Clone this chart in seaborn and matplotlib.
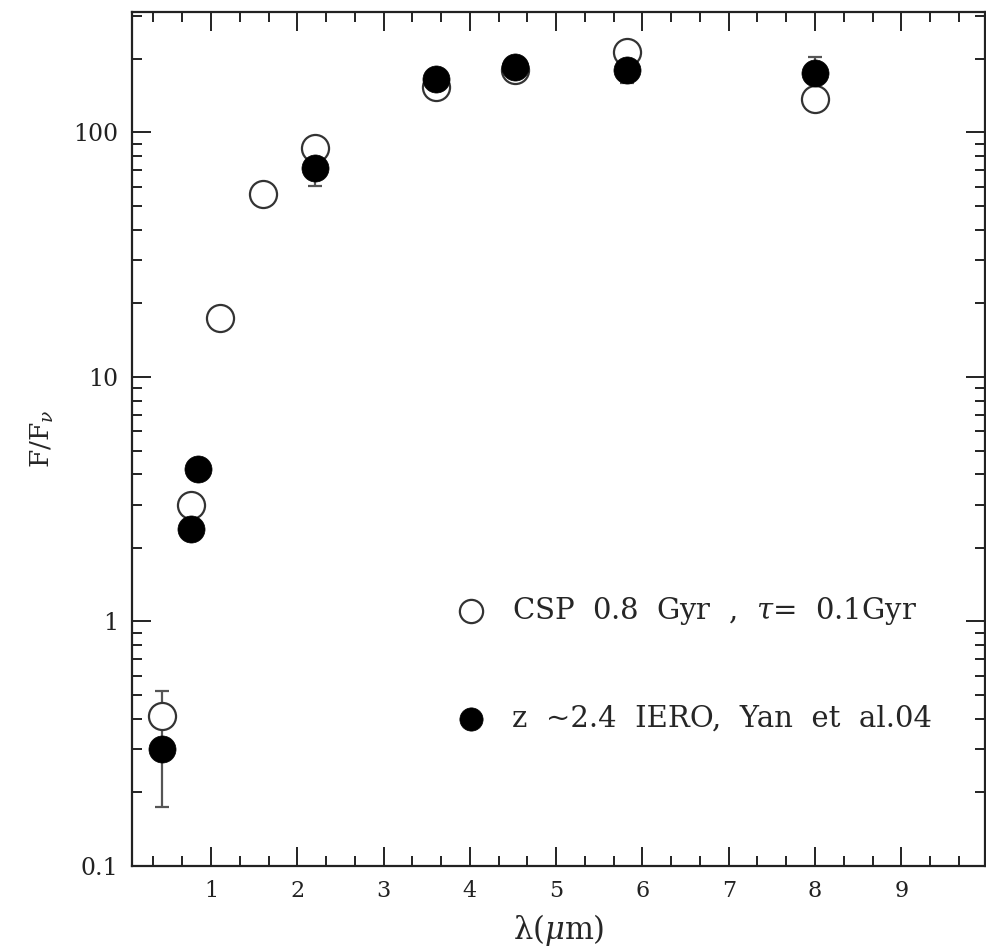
import numpy as np
import pandas as pd
import matplotlib
matplotlib.use("Agg")
import matplotlib.pyplot as plt
import seaborn as sns
from matplotlib.ticker import FixedLocator, NullFormatter, LogLocator

# ---- data ----
lam_model = [0.43, 0.77, 1.10, 1.60, 2.20, 3.61, 4.52, 5.82, 8.00]
flux_model = [0.41, 3.0, 17.4, 56.0, 86.0, 153.0, 180.0, 213.0, 137.0]

lam_obs = [0.43, 0.77, 0.85, 2.20, 3.61, 4.52, 5.82, 8.00]
flux_obs = [0.30, 2.4, 4.2, 71.6, 166.0, 186.0, 180.0, 175.0]
err_lo = [0.126, 0.0, 0.0, 11.0, 8.0, 8.0, 21.0, 24.0]
err_hi = [0.22, 0.0, 0.0, 11.4, 8.0, 8.0, 27.0, 29.0]

label_model = "CSP  0.8  Gyr  ,  $\\tau$=  0.1Gyr"
label_obs = "z  ~2.4  IERO,  Yan  et  al.04"

x_major = [1, 2, 3, 4, 5, 6, 7, 8, 9]
y_major = [0.1, 1, 10, 100]
y_major_labels = ["0.1", "1", "10", "100"]

# ---- style ----
sns.set_style("ticks")
plt.rcParams["font.family"] = ["DejaVu Serif"]
plt.rcParams["mathtext.fontset"] = "dejavuserif"

fig = plt.figure(figsize=(9.86, 9.51), dpi=100)
ax = fig.add_axes([0.1339, 0.0894, 0.8651, 0.898])

df_model = pd.DataFrame({"lam": lam_model, "flux": flux_model})
df_obs = pd.DataFrame({"lam": lam_obs, "flux": flux_obs})

# error bars for observed points
ax.errorbar(lam_obs, flux_obs, yerr=[err_lo, err_hi], fmt="none",
            ecolor="#555555", elinewidth=1.6, capsize=5, capthick=1.6, zorder=1)

sns.scatterplot(data=df_model, x="lam", y="flux", ax=ax, marker="o",
                s=380, facecolor="white", edgecolor="#333333", linewidth=1.6,
                zorder=2, label=label_model)
sns.scatterplot(data=df_obs, x="lam", y="flux", ax=ax, marker="o",
                s=380, color="black", edgecolor="black", linewidth=0.5,
                zorder=3, label=label_obs)

ax.set_yscale("log")
ax.set_xlim(0.085, 9.97)
ax.set_ylim(0.1, 311)

ax.xaxis.set_major_locator(FixedLocator(x_major))
ax.xaxis.set_minor_locator(FixedLocator(np.arange(1, 30) / 3.0))
ax.set_xticklabels([str(v) for v in x_major])
ax.yaxis.set_major_locator(FixedLocator(y_major))
ax.set_yticklabels(y_major_labels)
ax.yaxis.set_minor_locator(LogLocator(base=10, subs=np.arange(2, 10)))
ax.yaxis.set_minor_formatter(NullFormatter())

ax.tick_params(which="both", direction="in", top=True, right=True,
               colors="#222222", width=1.4, pad=10)
ax.tick_params(axis="x", labelsize=16)
ax.tick_params(axis="y", labelsize=17)
ax.tick_params(which="major", length=14)
ax.tick_params(which="minor", length=7)
for sp in ax.spines.values():
    sp.set_linewidth(1.6)
    sp.set_color("#222222")

ax.set_xlabel("λ($\\mu$m)", fontsize=22, labelpad=7)
ax.set_ylabel("F/F$_{\\nu}$", fontsize=19, labelpad=12)

leg = ax.legend(loc="upper left", bbox_to_anchor=(0.333, 0.348), frameon=False,
                fontsize=21, labelspacing=2.65, handletextpad=0.4,
                markerscale=1.0)
for h in leg.legend_handles:
    h.set_sizes([280])

fig.savefig("out.png", dpi=100)
